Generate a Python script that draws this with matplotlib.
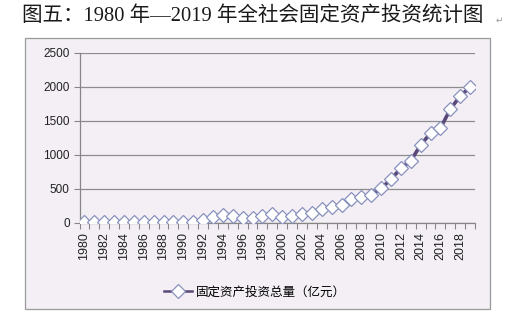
import numpy as np
import matplotlib.pyplot as plt
from matplotlib.patches import Rectangle
from matplotlib.ticker import FixedLocator, NullFormatter

years = list(range(1980, 2020))
invest = [3, 3, 3, 3, 4, 5, 5, 6, 6, 6, 7,
          10, 45, 88, 118, 100, 65, 65, 99, 130,
          88, 103, 125, 147, 197, 226, 255, 344, 374, 407,
          506, 638, 800, 908, 1143, 1315, 1389, 1668, 1864, 1991]
yticks = [0, 500, 1000, 1500, 2000, 2500]
series_name = '固定资产投资总量（亿元）'
title = '图五：1980 年—2019 年全社会固定资产投资统计图'

W, H = 511, 323
fig = plt.figure(figsize=(W / 100, H / 100), dpi=100)
fig.patch.set_facecolor('white')

# chart frame
fig.patches.append(Rectangle((25 / W, 1 - 309 / H), 465 / W, 271 / H,
                             transform=fig.transFigure, facecolor='#f3eff5',
                             edgecolor='#9a9a9a', lw=0.9, zorder=-1))

fig.text(22 / W, 1 - 16 / H, title, fontsize=14.8,
         family=['Liberation Serif', 'Noto Sans CJK SC'], va='center', ha='left',
         color='#1a1a1a')
fig.text(496 / W, 1 - 20 / H, '↵', fontsize=6.5, color='#999999', va='center')

ax = fig.add_axes([79.5 / W, 1 - 222.7 / H, 395.5 / W, 170 / H], zorder=2)
ax.set_facecolor('none')
x = np.arange(len(years))
ax.plot(x, invest, color='#5a4878', lw=2.6, marker='D', markersize=6.8,
        markerfacecolor='white', markeredgecolor='#8891bd', markeredgewidth=0.9,
        label=series_name, zorder=3)

ax.set_xlim(-0.5, len(years) - 0.5)
ax.set_ylim(0, 2500)
ax.set_yticks(yticks)
ax.set_yticklabels([str(v) for v in yticks], family='Liberation Sans', fontsize=8.5,
                   color='#222222')
ax.yaxis.grid(True, color='#8c8c8c', lw=0.9)
ax.set_axisbelow(True)

ax.set_xticks(x[::2])
ax.set_xticklabels([str(y) for y in years[::2]], rotation=90,
                   family='Liberation Sans', fontsize=9, color='#222222')
ax.xaxis.set_minor_locator(FixedLocator(np.arange(-0.5, len(years), 1)))
ax.xaxis.set_minor_formatter(NullFormatter())
ax.tick_params(axis='x', which='major', length=0, pad=7)
ax.tick_params(axis='x', which='minor', length=4, color='#868686', width=0.8)
ax.tick_params(axis='y', length=4, color='#868686', width=0.8, pad=3)

for s in ['top', 'right']:
    ax.spines[s].set_visible(False)
for s in ['left', 'bottom']:
    ax.spines[s].set_color('#868686')
    ax.spines[s].set_linewidth(0.9)

leg = fig.legend(loc='center', bbox_to_anchor=(255 / W, 1 - 292 / H), frameon=False,
                 prop={'family': 'Noto Sans CJK SC', 'size': 9}, handlelength=2.2,
                 handletextpad=0.3)
for h in leg.get_lines():
    h.set_linewidth(1.8)

fig.savefig('out.png', dpi=100)
